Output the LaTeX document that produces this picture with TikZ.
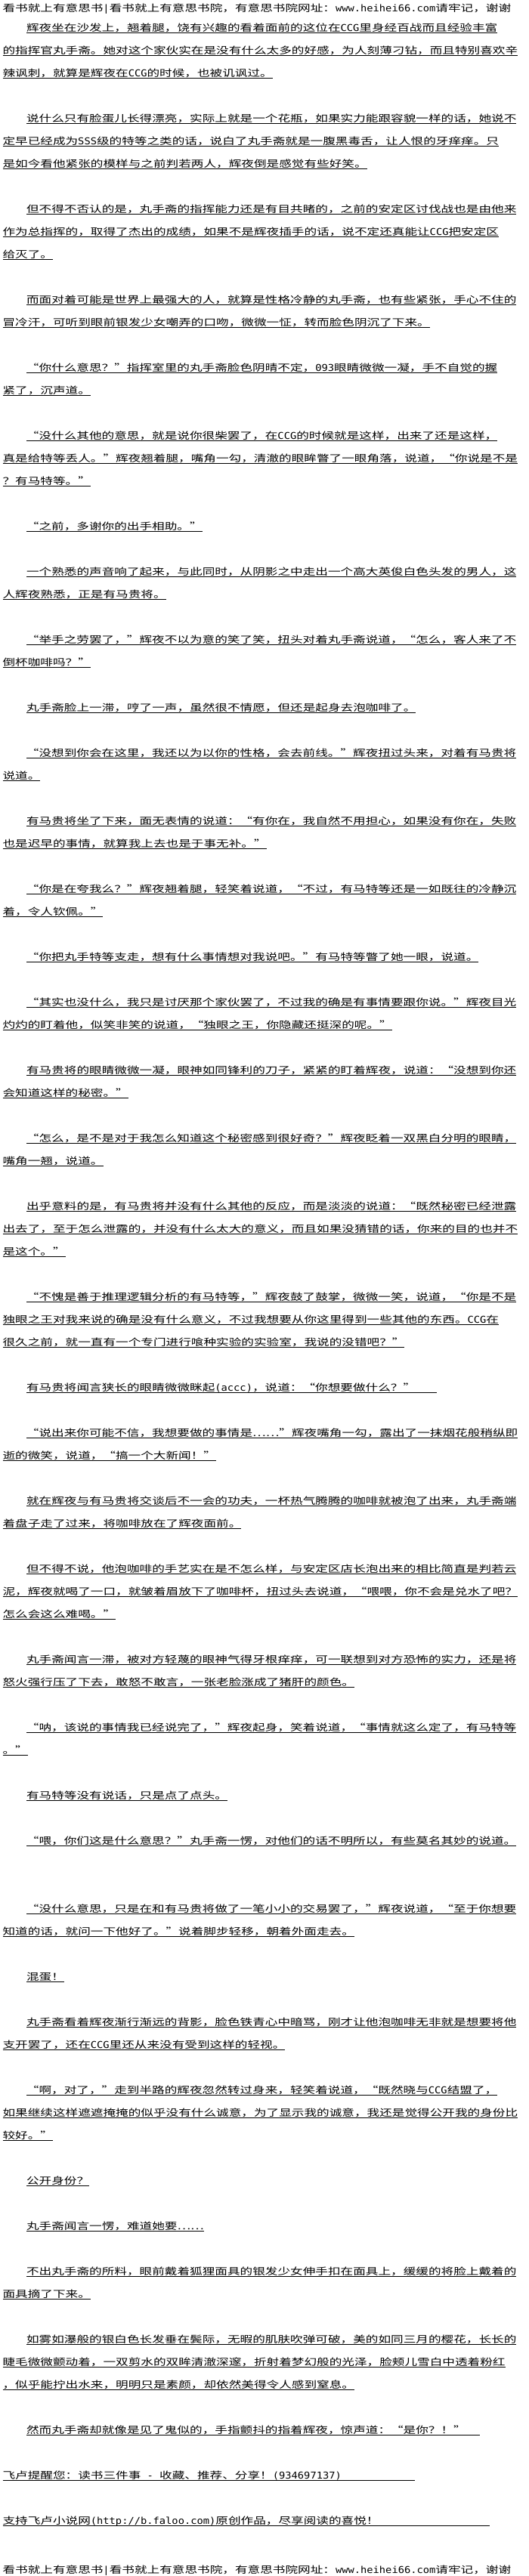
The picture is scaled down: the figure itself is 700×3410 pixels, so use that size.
\documentclass[tikz,border=0pt]{standalone}
\usepackage{fontspec}
\setmainfont[FakeStretch=1.33]{Noto Sans CJK SC}
\newfontfamily\hwfont[FakeStretch=1.1]{DejaVu Sans Mono}
\newcommand\hw[1]{{\hwfont #1}}
\newcommand\qo{\makebox[16.6pt][r]{“}}
\newcommand\qc{\makebox[16.6pt][l]{”}}
\tikzset{
  ln/.style={anchor=base west, inner sep=0pt, outer sep=0pt, font=\fontsize{12.5}{15}\selectfont, text=black},
  ul/.style={draw=black, line width=0.9pt}
}
\newcommand\pline[4]{%
  \node[ln] (#1) at (#2,{41+30*#3}) {#4};
  \draw[ul] ([yshift=-2pt]#1.base west) -- ([yshift=-2pt]#1.base east);}
\newcommand\plinex[5]{%
  \node[ln] (#1) at (#2,{41+30*#3}) {#4};
  \coordinate (#1e) at (#5,{43+30*#3});
  \draw[ul] ([yshift=-2pt]#1.base west) -- (#1e);}
\begin{document}
\begin{tikzpicture}[x=1pt,y=-1pt]
\useasboundingbox (0,0) rectangle (700,3410);
\fill[white] (0,0) rectangle (700,3410);
\node[ln] (hd) at (3.5,15) {看书就上有意思书\hw{|}看书就上有意思书院，有意思书院网址：\hw{www.heihei66.com}请牢记，谢谢};
\pline{l1}{35}{0}{辉夜坐在沙发上，翘着腿，饶有兴趣的看着面前的这位在\hw{CCG}里身经百战而且经验丰富}
\pline{l2}{3.5}{1}{的指挥官丸手斋。她对这个家伙实在是没有什么太多的好感，为人刻薄刁钻，而且特别喜欢辛}
\pline{l3}{3.5}{2}{辣讽刺，就算是辉夜在\hw{CCG}的时候，也被讥讽过。}
\pline{l4}{35}{4}{说什么只有脸蛋儿长得漂亮，实际上就是一个花瓶，如果实力能跟容貌一样的话，她说不}
\pline{l5}{3.5}{5}{定早已经成为\hw{SSS}级的特等之类的话，说白了丸手斋就是一腹黑毒舌，让人恨的牙痒痒。只}
\pline{l6}{3.5}{6}{是如今看他紧张的模样与之前判若两人，辉夜倒是感觉有些好笑。}
\pline{l7}{35}{8}{但不得不否认的是，丸手斋的指挥能力还是有目共睹的，之前的安定区讨伐战也是由他来}
\pline{l8}{3.5}{9}{作为总指挥的，取得了杰出的成绩，如果不是辉夜插手的话，说不定还真能让\hw{CCG}把安定区}
\pline{l9}{3.5}{10}{给灭了。}
\pline{l10}{35}{12}{而面对着可能是世界上最强大的人，就算是性格冷静的丸手斋，也有些紧张，手心不住的}
\pline{l11}{3.5}{13}{冒冷汗，可听到眼前银发少女嘲弄的口吻，微微一怔，转而脸色阴沉了下来。}
\pline{l12}{35}{15}{\qo{}你什么意思？\qc{}指挥室里的丸手斋脸色阴晴不定，\hw{093}眼睛微微一凝，手不自觉的握}
\pline{l13}{3.5}{16}{紧了，沉声道。}
\pline{l14}{35}{18}{\qo{}没什么其他的意思，就是说你很柴罢了，在\hw{CCG}的时候就是这样，出来了还是这样，}
\pline{l15}{3.5}{19}{真是给特等丢人。\qc{}辉夜翘着腿，嘴角一勾，清澈的眼眸瞥了一眼角落，说道，\qo{}你说是不是}
\pline{l16}{3.5}{20}{？有马特等。\qc{}}
\pline{l17}{35}{22}{\qo{}之前，多谢你的出手相助。\qc{}}
\pline{l18}{35}{24}{一个熟悉的声音响了起来，与此同时，从阴影之中走出一个高大英俊白色头发的男人，这}
\pline{l19}{3.5}{25}{人辉夜熟悉，正是有马贵将。}
\pline{l20}{35}{27}{\qo{}举手之劳罢了，\qc{}辉夜不以为意的笑了笑，扭头对着丸手斋说道，\qo{}怎么，客人来了不}
\pline{l21}{3.5}{28}{倒杯咖啡吗？\qc{}}
\pline{l22}{35}{30}{丸手斋脸上一滞，哼了一声，虽然很不情愿，但还是起身去泡咖啡了。}
\pline{l23}{35}{32}{\qo{}没想到你会在这里，我还以为以你的性格，会去前线。\qc{}辉夜扭过头来，对着有马贵将}
\pline{l24}{3.5}{33}{说道。}
\pline{l25}{35}{35}{有马贵将坐了下来，面无表情的说道：\qo{}有你在，我自然不用担心，如果没有你在，失败}
\pline{l26}{3.5}{36}{也是迟早的事情，就算我上去也是于事无补。\qc{}}
\pline{l27}{35}{38}{\qo{}你是在夸我么？\qc{}辉夜翘着腿，轻笑着说道，\qo{}不过，有马特等还是一如既往的冷静沉}
\pline{l28}{3.5}{39}{着，令人钦佩。\qc{}}
\pline{l29}{35}{41}{\qo{}你把丸手特等支走，想有什么事情想对我说吧。\qc{}有马特等瞥了她一眼，说道。}
\pline{l30}{35}{43}{\qo{}其实也没什么，我只是讨厌那个家伙罢了，不过我的确是有事情要跟你说。\qc{}辉夜目光}
\pline{l31}{3.5}{44}{灼灼的盯着他，似笑非笑的说道，\qo{}独眼之王，你隐藏还挺深的呢。\qc{}}
\pline{l32}{35}{46}{有马贵将的眼睛微微一凝，眼神如同锋利的刀子，紧紧的盯着辉夜，说道：\qo{}没想到你还}
\pline{l33}{3.5}{47}{会知道这样的秘密。\qc{}}
\pline{l34}{35}{49}{\qo{}怎么，是不是对于我怎么知道这个秘密感到很好奇？\qc{}辉夜眨着一双黑白分明的眼睛，}
\pline{l35}{3.5}{50}{嘴角一翘，说道。}
\pline{l36}{35}{52}{出乎意料的是，有马贵将并没有什么其他的反应，而是淡淡的说道：\qo{}既然秘密已经泄露}
\pline{l37}{3.5}{53}{出去了，至于怎么泄露的，并没有什么太大的意义，而且如果没猜错的话，你来的目的也并不}
\pline{l38}{3.5}{54}{是这个。\qc{}}
\pline{l39}{35}{56}{\qo{}不愧是善于推理逻辑分析的有马特等，\qc{}辉夜鼓了鼓掌，微微一笑，说道，\qo{}你是不是}
\pline{l40}{3.5}{57}{独眼之王对我来说的确是没有什么意义，不过我想要从你这里得到一些其他的东西。\hw{CCG}在}
\pline{l41}{3.5}{58}{很久之前，就一直有一个专门进行喰种实验的实验室，我说的没错吧？\qc{}}
\plinex{l42}{35}{60}{有马贵将闻言狭长的眼睛微微眯起\hw{(accc)}，说道：\qo{}你想要做什么？\qc{}}{578}
\pline{l43}{35}{62}{\qo{}说出来你可能不信，我想要做的事情是……\qc{}辉夜嘴角一勾，露出了一抹烟花般稍纵即}
\pline{l44}{3.5}{63}{逝的微笑，说道，\qo{}搞一个大新闻！\qc{}}
\pline{l45}{35}{65}{就在辉夜与有马贵将交谈后不一会的功夫，一杯热气腾腾的咖啡就被泡了出来，丸手斋端}
\pline{l46}{3.5}{66}{着盘子走了过来，将咖啡放在了辉夜面前。}
\pline{l47}{35}{68}{但不得不说，他泡咖啡的手艺实在是不怎么样，与安定区店长泡出来的相比简直是判若云}
\pline{l48}{3.5}{69}{泥，辉夜就喝了一口，就皱着眉放下了咖啡杯，扭过头去说道，\qo{}喂喂，你不会是兑水了吧？}
\pline{l49}{3.5}{70}{怎么会这么难喝。\qc{}}
\pline{l50}{35}{72}{丸手斋闻言一滞，被对方轻蔑的眼神气得牙根痒痒，可一联想到对方恐怖的实力，还是将}
\pline{l51}{3.5}{73}{怒火强行压了下去，敢怒不敢言，一张老脸涨成了猪肝的颜色。}
\pline{l52}{35}{75}{\qo{}呐，该说的事情我已经说完了，\qc{}辉夜起身，笑着说道，\qo{}事情就这么定了，有马特等}
\pline{l53}{3.5}{76}{。\qc{}}
\pline{l54}{35}{78}{有马特等没有说话，只是点了点头。}
\pline{l55}{35}{80}{\qo{}喂，你们这是什么意思？\qc{}丸手斋一愣，对他们的话不明所以，有些莫名其妙的说道。}
\pline{l56}{35}{83}{\qo{}没什么意思，只是在和有马贵将做了一笔小小的交易罢了，\qc{}辉夜说道，\qo{}至于你想要}
\pline{l57}{3.5}{84}{知道的话，就问一下他好了。\qc{}说着脚步轻移，朝着外面走去。}
\pline{l58}{35}{86}{混蛋！}
\pline{l59}{35}{88}{丸手斋看着辉夜渐行渐远的背影，脸色铁青心中暗骂，刚才让他泡咖啡无非就是想要将他}
\pline{l60}{3.5}{89}{支开罢了，还在\hw{CCG}里还从来没有受到这样的轻视。}
\pline{l61}{35}{91}{\qo{}啊，对了，\qc{}走到半路的辉夜忽然转过身来，轻笑着说道，\qo{}既然晓与\hw{CCG}结盟了，}
\pline{l62}{3.5}{92}{如果继续这样遮遮掩掩的似乎没有什么诚意，为了显示我的诚意，我还是觉得公开我的身份比}
\pline{l63}{3.5}{93}{较好。\qc{}}
\pline{l64}{35}{95}{公开身份？}
\pline{l65}{35}{97}{丸手斋闻言一愣，难道她要……}
\pline{l66}{35}{99}{不出丸手斋的所料，眼前戴着狐狸面具的银发少女伸手扣在面具上，缓缓的将脸上戴着的}
\pline{l67}{3.5}{100}{面具摘了下来。}
\pline{l68}{35}{102}{如雾如瀑般的银白色长发垂在鬓际，无暇的肌肤吹弹可破，美的如同三月的樱花，长长的}
\pline{l69}{3.5}{103}{睫毛微微颤动着，一双剪水的双眸清澈深邃，折射着梦幻般的光泽，脸颊儿雪白中透着粉红}
\pline{l70}{3.5}{104}{，似乎能拧出水来，明明只是素颜，却依然美得令人感到窒息。}
\plinex{l71}{35}{106}{然而丸手斋却就像是见了鬼似的，手指颤抖的指着辉夜，惊声道：\qo{}是你？！\qc{}}{635}
\plinex{l72}{3.5}{108}{飞卢提醒您：读书三件事\hw{ - }收藏、推荐、分享！\hw{(934697137)}}{549}
\plinex{l73}{3.5}{110}{支持飞卢小说网\hw{(http://b.faloo.com)}原创作品，尽享阅读的喜悦！}{648}
\node[ln] (ft) at (3.5,3406) {看书就上有意思书\hw{|}看书就上有意思书院，有意思书院网址：\hw{www.heihei66.com}请牢记，谢谢};
\end{tikzpicture}
\end{document}
